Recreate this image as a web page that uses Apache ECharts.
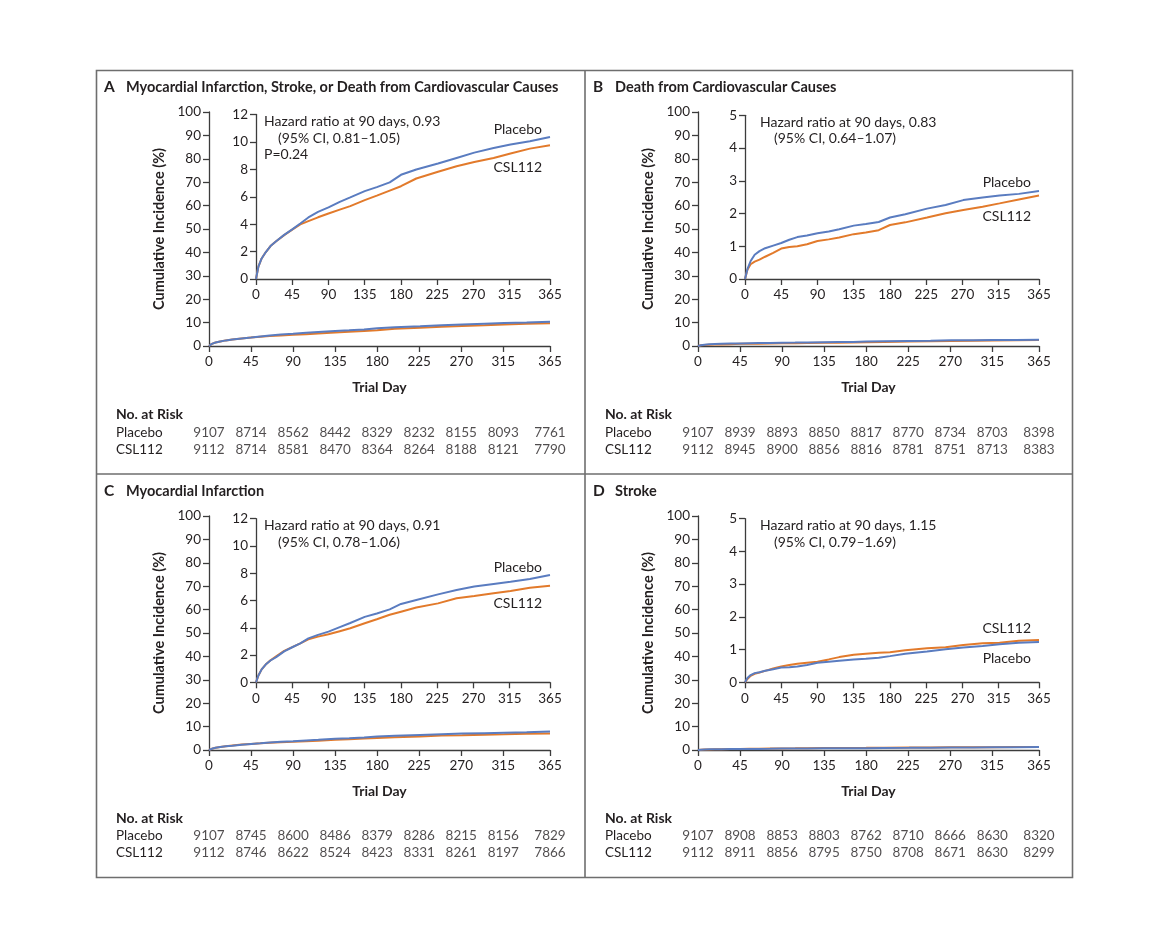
<!DOCTYPE html>
<html>
<head>
<meta charset="utf-8">
<script src="https://cdn.jsdelivr.net/npm/echarts@6/dist/echarts.min.js"></script>
<style>
html,body{margin:0;padding:0;background:#fff;}
#c{width:1170px;height:936px;}
</style>
</head>
<body>
<div id="c"></div>
<script>
// ---------------- DATA ----------------
const days = [0,3,7,12,18,25,35,45,55,65,77,90,104,117,135,150,166,180,199,226,249,271,295,316,340,365];

const placeboA = [0,0.9,1.5,1.95,2.4,2.75,3.22,3.62,4.05,4.49,4.9,5.22,5.63,5.95,6.41,6.7,7.05,7.6,7.99,8.42,8.83,9.22,9.56,9.81,10.05,10.36];
const csl112A  = [0,0.9,1.5,1.95,2.4,2.75,3.2,3.6,3.98,4.22,4.5,4.78,5.06,5.32,5.75,6.08,6.45,6.77,7.33,7.82,8.23,8.54,8.83,9.15,9.51,9.76];

const placeboB = [0,0.3,0.55,0.74,0.85,0.94,1.02,1.1,1.2,1.28,1.33,1.4,1.45,1.52,1.63,1.68,1.74,1.88,1.98,2.15,2.26,2.41,2.49,2.55,2.6,2.69];
const csl112B  = [0,0.28,0.45,0.53,0.59,0.68,0.8,0.93,0.98,1.0,1.06,1.16,1.21,1.27,1.37,1.42,1.49,1.65,1.73,1.88,2.01,2.11,2.21,2.31,2.43,2.55];

const placeboC = [0,0.5,0.95,1.3,1.6,1.85,2.27,2.57,2.86,3.22,3.48,3.72,4.05,4.35,4.8,5.05,5.35,5.75,6.04,6.45,6.77,7.02,7.21,7.38,7.58,7.87];
const csl112C  = [0,0.5,0.95,1.3,1.62,1.9,2.3,2.58,2.86,3.15,3.35,3.52,3.75,3.96,4.33,4.62,4.95,5.18,5.48,5.79,6.16,6.33,6.53,6.7,6.94,7.09];

const placeboD = [0,0.13,0.22,0.28,0.31,0.35,0.4,0.45,0.46,0.48,0.53,0.6,0.63,0.66,0.7,0.72,0.75,0.8,0.87,0.94,1.01,1.06,1.11,1.16,1.21,1.23];
const csl112D  = [0,0.1,0.2,0.26,0.3,0.35,0.42,0.48,0.53,0.57,0.6,0.63,0.7,0.77,0.84,0.87,0.9,0.92,0.98,1.04,1.07,1.14,1.19,1.21,1.27,1.29];

const dayTicks = [0,45,90,135,180,225,270,315,365];
const riskRows = ['Placebo','CSL112'];
const riskPlaceboA = [9107,8714,8562,8442,8329,8232,8155,8093,7761];
const riskCslA     = [9112,8714,8581,8470,8364,8264,8188,8121,7790];
const riskPlaceboB = [9107,8939,8893,8850,8817,8770,8734,8703,8398];
const riskCslB     = [9112,8945,8900,8856,8816,8781,8751,8713,8383];
const riskPlaceboC = [9107,8745,8600,8486,8379,8286,8215,8156,7829];
const riskCslC     = [9112,8746,8622,8524,8423,8331,8261,8197,7866];
const riskPlaceboD = [9107,8908,8853,8803,8762,8710,8666,8630,8320];
const riskCslD     = [9112,8911,8856,8795,8750,8708,8671,8630,8299];

const panelLetters = ['A','B','C','D'];
const panelTitles = ['Myocardial Infarction, Stroke, or Death from Cardiovascular Causes','Death from Cardiovascular Causes','Myocardial Infarction','Stroke'];
const hazardLines = [
  ['Hazard ratio at 90 days, 0.93','(95% CI, 0.81\u20131.05)','P=0.24'],
  ['Hazard ratio at 90 days, 0.83','(95% CI, 0.64\u20131.07)'],
  ['Hazard ratio at 90 days, 0.91','(95% CI, 0.78\u20131.06)'],
  ['Hazard ratio at 90 days, 1.15','(95% CI, 0.79\u20131.69)']
];
const insetMax = [12,5,12,5];
const insetInterval = [2,1,2,1];
const seriesNames = ['Placebo','CSL112'];
const yAxisTitle = 'Cumulative Incidence (%)';
const xAxisTitle = 'Trial Day';
const riskTitle = 'No. at Risk';

// ---------------- STYLE / LAYOUT ----------------
const FONT = 'Lato';
const TXT = '#231f20';
const AX = '#3c3c3c';
const BLUE = '#5a7cc0';
const ORANGE = '#e27a2b';

const curves = [[placeboA,csl112A],[placeboB,csl112B],[placeboC,csl112C],[placeboD,csl112D]];
const risks = [[riskPlaceboA,riskCslA],[riskPlaceboB,riskCslB],[riskPlaceboC,riskCslC],[riskPlaceboD,riskCslD]];

const layout = [
  {mainL:209, mainT:112, insL:256, insT:114.5, insH:164.5, riskT:424, riskY:414, ox:96, oy:70, labelY:[129,167]},
  {mainL:698, mainT:112, insL:745, insT:115.3, insH:163.7, riskT:424, riskY:414, ox:585, oy:70, labelY:[182,216]},
  {mainL:209, mainT:516, insL:256, insT:518.7, insH:163.6, riskT:827, riskY:818, ox:96, oy:474, labelY:[567,603]},
  {mainL:698, mainT:516, insL:745, insT:518.7, insH:163.6, riskT:827, riskY:818, ox:585, oy:474, labelY:[658,628]}
];
const MAIN_W = 341, MAIN_H = 234, INS_W = 294;

const grids = [], xAxes = [], yAxes = [], series = [], graphics = [];

function xAxisCfg(gi, withName) {
  return {
    gridIndex: gi, type: 'value', min: 0, max: 365,
    axisLine: {show: true, lineStyle: {color: AX, width: 1.3}},
    axisTick: {show: true, inside: false, length: 6, customValues: dayTicks, lineStyle: {color: AX, width: 1.3}},
    axisLabel: {show: true, customValues: dayTicks, margin: 9, color: TXT, fontSize: 13.5, fontFamily: FONT},
    splitLine: {show: false},
    name: withName ? xAxisTitle : '', nameLocation: 'middle', nameGap: 34,
    nameTextStyle: {fontFamily: FONT, fontWeight: 'bold', fontSize: 14, color: TXT}
  };
}
function yAxisCfg(gi, max, interval, withName) {
  return {
    gridIndex: gi, type: 'value', min: 0, max: max, interval: interval,
    axisLine: {show: true, lineStyle: {color: AX, width: 1.3}},
    axisTick: {show: true, inside: false, length: 6, lineStyle: {color: AX, width: 1.3}},
    axisLabel: {show: true, margin: 8, color: TXT, fontSize: 13.5, fontFamily: FONT},
    splitLine: {show: false},
    name: withName ? yAxisTitle : '', nameLocation: 'middle', nameGap: 42, nameRotate: 90,
    nameTextStyle: {fontFamily: FONT, fontWeight: 'bold', fontSize: 14.5, color: TXT}
  };
}

layout.forEach((L, p) => {
  // main grid
  const gMain = grids.length;
  grids.push({left: L.mainL, top: L.mainT, width: MAIN_W, height: MAIN_H});
  xAxes.push(xAxisCfg(gMain, true));
  yAxes.push(yAxisCfg(gMain, 100, 10, true));
  // inset grid
  const gIns = grids.length;
  grids.push({left: L.insL, top: L.insT, width: INS_W, height: L.insH});
  xAxes.push(xAxisCfg(gIns, false));
  yAxes.push(yAxisCfg(gIns, insetMax[p], insetInterval[p], false));
  // risk grid
  const gRisk = grids.length;
  grids.push({left: L.mainL, top: L.riskT, width: MAIN_W, height: 34});
  xAxes.push({gridIndex: gRisk, type: 'value', min: 0, max: 365, show: false});
  yAxes.push({gridIndex: gRisk, type: 'category', data: riskRows, inverse: true,
    axisLine: {show: false}, axisTick: {show: false}, splitLine: {show: false},
    axisLabel: {show: true, interval: 0, align: 'left', margin: L.mainL - (L.ox + 20), color: TXT, fontSize: 13.5, fontFamily: FONT}});

  // curves: orange first, then blue on top
  [1, 0].forEach(si => {
    const vals = curves[p][si];
    const data = days.map((d, i) => [d, vals[i]]);
    const color = si === 0 ? BLUE : ORANGE;
    [gMain, gIns].forEach(g => {
      series.push({
        type: 'line', name: seriesNames[si], xAxisIndex: g, yAxisIndex: g,
        data: data, showSymbol: false, symbol: 'none', smooth: false,
        lineStyle: {color: color, width: 2}, silent: true, animation: false
      });
    });
  });

  // risk numbers
  risks[p].forEach((row, ri) => {
    series.push({
      type: 'scatter', xAxisIndex: gRisk, yAxisIndex: gRisk, symbolSize: 2,
      itemStyle: {color: 'rgba(255,255,255,0)'}, silent: true, animation: false,
      data: dayTicks.map((d, i) => [d, ri, row[i]]),
      label: {show: true, position: 'inside', formatter: q => String(q.value[2]),
        color: TXT, fontSize: 13.5, fontFamily: FONT}
    });
  });

  // Panel letter + title
  graphics.push({type: 'text', left: L.ox + 8, top: L.oy + 9,
    style: {text: panelLetters[p], font: 'bold 15.5px ' + FONT, fill: TXT}});
  graphics.push({type: 'text', left: L.ox + 30, top: L.oy + 10,
    style: {text: panelTitles[p], font: 'bold 14.5px ' + FONT, fill: TXT}});

  // hazard text
  const hx = L.insL + (p % 2 === 0 ? 8 : 15);
  const hy = L.insT + 0;
  hazardLines[p].forEach((t, i) => {
    graphics.push({type: 'text', left: hx + (i === 1 ? 14 : 0), top: hy + i * 16.5,
      style: {text: t, font: '14px ' + FONT, fill: TXT}});
  });

  // series labels (right aligned)
  seriesNames.forEach((n, i) => {
    graphics.push({type: 'text', x: L.insL + INS_W - 8, y: L.labelY[i],
      style: {text: n, font: '14px ' + FONT, fill: TXT, align: 'right', verticalAlign: 'middle'}});
  });

  // No. at Risk
  graphics.push({type: 'text', x: L.ox + 20, y: L.riskY,
    style: {text: riskTitle, font: 'bold 14px ' + FONT, fill: TXT, verticalAlign: 'middle'}});
});

// frame
graphics.push({type: 'rect', shape: {x: 96.5, y: 70.5, width: 976, height: 807},
  style: {fill: 'none', stroke: '#6e6e6e', lineWidth: 1.6}});
graphics.push({type: 'line', shape: {x1: 585, y1: 70.5, x2: 585, y2: 877.5},
  style: {stroke: '#6e6e6e', lineWidth: 1.6}});
graphics.push({type: 'line', shape: {x1: 96.5, y1: 474, x2: 1072.5, y2: 474},
  style: {stroke: '#6e6e6e', lineWidth: 1.6}});

const chart = echarts.init(document.getElementById('c'), null, {renderer: 'canvas'});
chart.setOption({
  backgroundColor: '#ffffff',
  animation: false,
  textStyle: {fontFamily: FONT},
  grid: grids, xAxis: xAxes, yAxis: yAxes, series: series, graphic: graphics
});
</script>
</body>
</html>
